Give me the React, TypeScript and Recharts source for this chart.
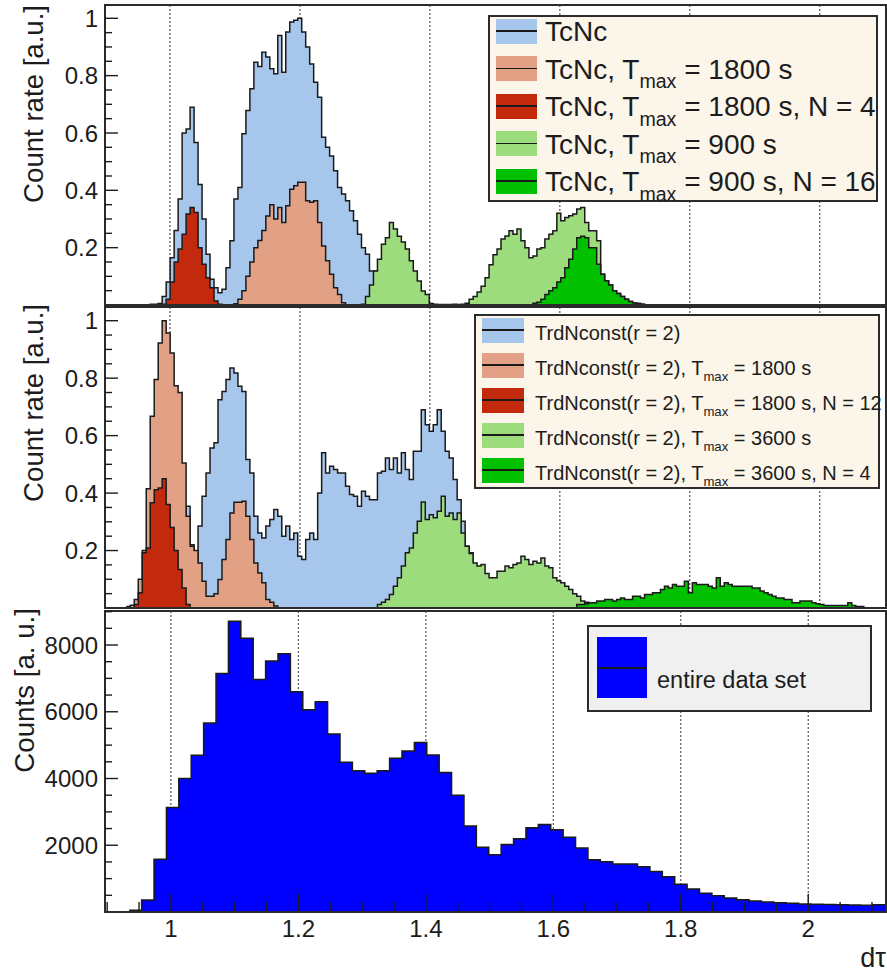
import React from 'react';
import { ComposedChart, Area, XAxis, YAxis, CartesianGrid, Legend, ReferenceArea } from 'recharts';

const FONT = '"Liberation Sans", Arial, Helvetica, sans-serif';
const INK = '#1c1c1c';
const FRAME = '#2b2b2b';

const C_BLUE = '#a6c6ec';
const C_SALMON = '#e2a185';
const C_RED = '#c3290c';
const C_LGREEN = '#9cdc7d';
const C_GREEN = '#00c000';
const C_DATA = '#0000ff';

// ---------- axis ticks ----------
const X_TICKS = [0.9, 0.95, 1, 1.05, 1.1, 1.15, 1.2, 1.25, 1.3, 1.35, 1.4, 1.45, 1.5, 1.55, 1.6, 1.65, 1.7, 1.75, 1.8, 1.85, 1.9, 1.95, 2, 2.05, 2.1];
const X_MAJOR = [1, 1.2, 1.4, 1.6, 1.8, 2];
const X_LABELS = ['1', '1.2', '1.4', '1.6', '1.8', '2'];
const RATE_TICKS = [0.05, 0.1, 0.15, 0.2, 0.25, 0.3, 0.35, 0.4, 0.45, 0.5, 0.55, 0.6, 0.65, 0.7, 0.75, 0.8, 0.85, 0.9, 0.95, 1];
const RATE_MAJOR = [0.2, 0.4, 0.6, 0.8, 1];
const RATE_LABELS = ['0.2', '0.4', '0.6', '0.8', '1'];
const COUNT_TICKS = [500, 1000, 1500, 2000, 2500, 3000, 3500, 4000, 4500, 5000, 5500, 6000, 6500, 7000, 7500, 8000, 8500, 9000];
const COUNT_MAJOR = [2000, 4000, 6000, 8000];
const COUNT_LABELS = ['2000', '4000', '6000', '8000'];

// ---------- fine binning (panels 1 & 2) ----------
const FINE_START = 0.9328;
const FINE_BIN = 0.006135;
const FINE_BINS = 187;

// Panel 1: TcNc
const tcncStart = 6;
const tcnc = [0.003, 0.003, 0.005, 0.03, 0.08, 0.165, 0.26, 0.37, 0.6, 0.614, 0.69, 0.567, 0.42, 0.3, 0.177, 0.09, 0.06, 0.043, 0.055, 0.13, 0.224, 0.37, 0.41, 0.597, 0.678, 0.754, 0.847, 0.832, 0.882, 0.865, 0.824, 0.807, 0.94, 0.812, 0.952, 0.987, 0.993, 1.0, 0.952, 0.9, 0.841, 0.777, 0.725, 0.585, 0.55, 0.52, 0.468, 0.41, 0.387, 0.364, 0.329, 0.294, 0.247, 0.2, 0.177, 0.119, 0.119, 0.11, 0.06, 0.02, 0.005];
const tcnc1800Start = 27;
const tcnc1800 = [0.004, 0.02, 0.05, 0.1, 0.15, 0.2, 0.225, 0.26, 0.31, 0.35, 0.3, 0.34, 0.288, 0.346, 0.404, 0.416, 0.428, 0.428, 0.364, 0.358, 0.364, 0.288, 0.206, 0.154, 0.107, 0.06, 0.037, 0.008];
const tcnc1800N4Start = 9;
const tcnc1800N4 = [0.003, 0.02, 0.08, 0.15, 0.195, 0.247, 0.317, 0.34, 0.323, 0.2, 0.142, 0.095, 0.06, 0.014, 0.003];
const tcnc900Start = 59;
const tcnc900 = [0.003, 0.03, 0.07, 0.119, 0.16, 0.212, 0.235, 0.288, 0.265, 0.24, 0.22, 0.195, 0.154, 0.119, 0.084, 0.049, 0.037, 0.005,
  0.003, 0.002, 0.002, 0.002, 0.002, 0.003, 0.002,
  0.003, 0.006, 0.02, 0.03, 0.045, 0.065, 0.095, 0.14, 0.175, 0.195, 0.23, 0.241, 0.259, 0.247, 0.265, 0.224, 0.2, 0.165, 0.171, 0.195, 0.2, 0.23, 0.247, 0.259, 0.32, 0.294, 0.305, 0.311, 0.317, 0.335, 0.34, 0.288, 0.259, 0.259, 0.224,
  0.107, 0.085, 0.07, 0.05, 0.04, 0.03, 0.02, 0.012, 0.007, 0.005, 0.003];
const tcnc900N16Start = 102;
const tcnc900N16 = [0.006, 0.01, 0.02, 0.037, 0.05, 0.06, 0.08, 0.095, 0.13, 0.16, 0.195, 0.235, 0.24, 0.235, 0.2, 0.2, 0.142, 0.107, 0.085, 0.07, 0.05, 0.04, 0.03, 0.02, 0.012, 0.007, 0.005, 0.003];

// Panel 2: TrdNconst(r = 2)
const trdStart = 15;
const trd = [0.354, 0.22, 0.15, 0.285, 0.389, 0.47, 0.557, 0.575, 0.725, 0.754, 0.795, 0.835, 0.818, 0.772, 0.754,
  0.517, 0.47, 0.319, 0.261, 0.244, 0.285, 0.308, 0.343, 0.319, 0.25, 0.285, 0.238, 0.261, 0.18, 0.169, 0.238, 0.261, 0.238,
  0.4, 0.54, 0.47, 0.493, 0.482, 0.47, 0.47, 0.424, 0.395, 0.389, 0.354, 0.406, 0.389, 0.377, 0.377,
  0.47, 0.476, 0.522, 0.482, 0.522, 0.47, 0.54, 0.482, 0.447, 0.546, 0.546, 0.69, 0.638, 0.615, 0.638, 0.69, 0.615,
  0.546, 0.522, 0.447, 0.377, 0.302, 0.215, 0.192, 0.14, 0.1, 0.07, 0.05, 0.03, 0.02, 0.01, 0.005];
const trd1800Start = 0;
const trd1800 = [0.005, 0.01, 0.03, 0.1, 0.2, 0.415, 0.667, 0.795, 0.922, 1.0, 0.957, 0.888, 0.774, 0.75, 0.505, 0.319, 0.215, 0.2, 0.157, 0.093, 0.041, 0.041, 0.05, 0.099, 0.169, 0.238, 0.331, 0.368, 0.368, 0.372, 0.319, 0.238, 0.157, 0.122, 0.088, 0.03, 0.02, 0.007];
const trd1800N12Start = 2;
const trd1800N12 = [0.012, 0.053, 0.192, 0.209, 0.366, 0.412, 0.418, 0.45, 0.36, 0.28, 0.2, 0.134, 0.07, 0.012];
const trd3600Start = 63;
const trd3600 = [0.012, 0.02, 0.03, 0.047, 0.076, 0.105, 0.146, 0.192, 0.209, 0.261, 0.302, 0.369, 0.308, 0.325, 0.314, 0.337, 0.389, 0.319, 0.331, 0.308, 0.331, 0.261, 0.215, 0.19, 0.157, 0.146, 0.151, 0.12, 0.105, 0.105, 0.128, 0.128, 0.146, 0.14, 0.151, 0.157, 0.18, 0.169, 0.151, 0.163, 0.157, 0.174, 0.146, 0.14, 0.105, 0.095, 0.088, 0.076, 0.064, 0.05, 0.041, 0.024, 0.02, 0.018, 0.018, 0.012, 0.01, 0.01, 0.01, 0.008, 0.008, 0.008, 0.005];
const trd3600N4Start = 113;
const trd3600N4 = [0.012, 0.012, 0.015, 0.018, 0.018, 0.024, 0.024, 0.03, 0.03, 0.024, 0.03, 0.035, 0.03, 0.03, 0.041, 0.041, 0.035, 0.047, 0.047, 0.053, 0.053, 0.064, 0.076, 0.07, 0.082, 0.076, 0.076, 0.093, 0.053, 0.088, 0.082, 0.082, 0.082, 0.076, 0.07, 0.105, 0.076, 0.088, 0.082, 0.076, 0.076, 0.076, 0.076, 0.076, 0.07, 0.07, 0.059, 0.053, 0.047, 0.041, 0.035, 0.035, 0.03, 0.03, 0.018, 0.018, 0.024, 0.024, 0.024, 0.018, 0.015, 0.012, 0.009, 0.009, 0.009, 0.009, 0.009, 0.009, 0.018, 0.009, 0.005, 0.005];

// ---------- panel 3: entire data set (coarse bins) ----------
const COARSE_START = 0.93464;
const COARSE_BIN = 0.019451;
const entireDataSet = [50, 360, 1580, 3130, 4000, 4700, 5660, 7150, 8710, 8200, 6970, 7520, 7740, 6600, 6060, 6300, 5330, 4490, 4230, 4160, 4230, 4605, 4826, 5077, 4706, 4183, 3499, 2574, 1940, 1719, 2021, 2192, 2524, 2624, 2464, 2241, 1920, 1568, 1508, 1438, 1438, 1357, 1216, 1056, 835, 690, 560, 490, 420, 370, 330, 300, 280, 260, 240, 230, 225, 220, 210, 200, 215];

// ---------- legends ----------
const TOP_LEGEND_MAIN = ['TcNc', 'TcNc, T', 'TcNc, T', 'TcNc, T', 'TcNc, T'];
const TOP_LEGEND_SUB = ['', 'max', 'max', 'max', 'max'];
const TOP_LEGEND_REST = ['', ' = 1800 s', ' = 1800 s, N = 4', ' = 900 s', ' = 900 s, N = 16'];
const MID_LEGEND_MAIN = ['TrdNconst(r = 2)', 'TrdNconst(r = 2), T', 'TrdNconst(r = 2), T', 'TrdNconst(r = 2), T', 'TrdNconst(r = 2), T'];
const MID_LEGEND_SUB = ['', 'max', 'max', 'max', 'max'];
const MID_LEGEND_REST = ['', ' = 1800 s', ' = 1800 s, N = 12', ' = 3600 s', ' = 3600 s, N = 4'];
const BOT_LEGEND = ['entire data set'];
const SERIES_COLORS = [C_BLUE, C_SALMON, C_RED, C_LGREEN, C_GREEN];
const SERIES_LINE = [1.5, 1.5, 2.5, 1.5, 2.5];

// ---------- tables ----------
type S = { key: string; start: number; values: number[] };
const buildFine = (series: S[]) => {
  const rows: any[] = [];
  for (let k = 0; k <= FINE_BINS; k++) {
    const row: any = { x: FINE_START + k * FINE_BIN };
    for (const s of series) {
      const i = k - s.start;
      row[s.key] = i >= 0 && i < s.values.length ? s.values[i] : 0;
    }
    rows.push(row);
  }
  return rows;
};
const topData = buildFine([
  { key: 's0', start: tcncStart, values: tcnc },
  { key: 's1', start: tcnc1800Start, values: tcnc1800 },
  { key: 's2', start: tcnc1800N4Start, values: tcnc1800N4 },
  { key: 's3', start: tcnc900Start, values: tcnc900 },
  { key: 's4', start: tcnc900N16Start, values: tcnc900N16 },
]);
const midData = buildFine([
  { key: 's0', start: trdStart, values: trd },
  { key: 's1', start: trd1800Start, values: trd1800 },
  { key: 's2', start: trd1800N12Start, values: trd1800N12 },
  { key: 's3', start: trd3600Start, values: trd3600 },
  { key: 's4', start: trd3600N4Start, values: trd3600N4 },
]);
const botData = [
  ...entireDataSet.map((v, i) => ({ x: COARSE_START + i * COARSE_BIN, y: v })),
  { x: COARSE_START + entireDataSet.length * COARSE_BIN, y: entireDataSet[entireDataSet.length - 1] },
];

// ---------- tick renderers ----------
const idxOf = (arr: number[], v: number) => arr.findIndex((m) => Math.abs(m - v) < 1e-6);

const makeXTick = (withLabel: boolean) => (props: any) => {
  const { x, y, payload } = props;
  const i = idxOf(X_MAJOR, payload.value);
  const major = i >= 0;
  return (
    <g>
      <line x1={x} x2={x} y1={y} y2={y - (major ? 18 : 10)} stroke={INK} strokeWidth={1.4} />
      {withLabel && major && (
        <text x={x} y={y + 25} textAnchor="middle" fontSize={24} fontFamily={FONT} fill={INK}>{X_LABELS[i]}</text>
      )}
    </g>
  );
};

const makeYTick = (majors: number[], labels: string[]) => (props: any) => {
  const { x, y, payload } = props;
  const i = idxOf(majors, payload.value);
  const major = i >= 0;
  return (
    <g>
      <line x1={x} x2={x + (major ? 13 : 7)} y1={y} y2={y} stroke={INK} strokeWidth={1.4} />
      {major && (
        <text x={x - 7} y={y} dy="0.36em" textAnchor="end" fontSize={24} fontFamily={FONT} fill={INK}>{labels[i]}</text>
      )}
    </g>
  );
};

const makeYTitle = (text: string, baseX: number, lift: number, size: number) => (props: any) => {
  const vb = props.viewBox || { x: 0, y: 0 };
  const px = baseX;
  const py = vb.y - lift;
  return (
    <text x={px} y={py} transform={`rotate(-90, ${px}, ${py})`} textAnchor="end" fontSize={size} fontFamily={FONT} fill={INK}>
      {text}
    </text>
  );
};

const makeGrid = (domain: [number, number]) => (p: any) => {
  const s = p && p.xAxis && p.xAxis.scale;
  if (typeof s === 'function') return X_MAJOR.map((v) => s(v));
  const o = p.offset;
  return X_MAJOR.map((v) => o.left + ((v - domain[0]) / (domain[1] - domain[0])) * o.width);
};

// ---------- legend boxes ----------
const LegendRows = (p: {
  w: number; h: number; bg: string; font: number; first: number; step: number;
  swX: number; swW: number; swH: number; swDy: number; textX: number; subScale: number;
  main: string[]; sub: string[]; rest: string[];
}) => (
  <div
    style={{
      position: 'relative', width: p.w, height: p.h, boxSizing: 'border-box',
      border: `2px solid ${FRAME}`, background: p.bg, fontFamily: FONT, color: INK,
    }}
  >
    {p.main.map((m, i) => {
      const cy = p.first + i * p.step - 2;
      return (
        <React.Fragment key={i}>
          <div style={{ position: 'absolute', left: p.swX - 2, top: cy + p.swDy - p.swH / 2, width: p.swW, height: p.swH, background: SERIES_COLORS[i] }}>
            <div style={{ position: 'absolute', left: 0, right: 0, top: p.swH / 2 - SERIES_LINE[i] / 2, height: SERIES_LINE[i], background: '#1a1a1a' }} />
          </div>
          <div style={{ position: 'absolute', left: p.textX - 2, top: cy - p.font / 2, height: p.font, lineHeight: `${p.font}px`, fontSize: p.font, whiteSpace: 'nowrap' }}>
            {m}
            {p.sub[i] && <span style={{ fontSize: `${p.subScale}em`, position: 'relative', top: '0.5em' }}>{p.sub[i]}</span>}
            {p.rest[i]}
          </div>
        </React.Fragment>
      );
    })}
  </div>
);

const TopLegend = () => (
  <LegendRows w={390} h={187} bg="#fbf5ea" font={28} first={17} step={37.5} swX={8} swW={41} swH={25} swDy={-1} textX={57} subScale={0.7}
    main={TOP_LEGEND_MAIN} sub={TOP_LEGEND_SUB} rest={TOP_LEGEND_REST} />
);
const MidLegend = () => (
  <LegendRows w={406} h={175} bg="#fbf5ea" font={20} first={18.5} step={35} swX={8} swW={42} swH={25} swDy={-2.5} textX={61} subScale={0.66}
    main={MID_LEGEND_MAIN} sub={MID_LEGEND_SUB} rest={MID_LEGEND_REST} />
);
const BotLegend = () => (
  <div style={{ position: 'relative', width: 285, height: 87, boxSizing: 'border-box', border: `2px solid ${FRAME}`, background: '#f0f0f0', fontFamily: FONT, color: INK }}>
    <div style={{ position: 'absolute', left: 8, top: 10, width: 50, height: 61, background: C_DATA }}>
      <div style={{ position: 'absolute', left: 0, right: 0, top: 30, height: 1.5, background: '#1a1a1a' }} />
    </div>
    <div style={{ position: 'absolute', left: 68, top: 53 - 12, height: 24, lineHeight: '24px', fontSize: 23.5, whiteSpace: 'nowrap' }}>{BOT_LEGEND[0]}</div>
  </div>
);

const FINE_DOMAIN: [number, number] = [0.9, 2.102];
const COARSE_DOMAIN: [number, number] = [0.8966, 2.122];
const RATE_DOMAIN_TOP: [number, number] = [0, 1.0464];
const RATE_DOMAIN_MID: [number, number] = [0, 1.0477];
const COUNT_DOMAIN: [number, number] = [0, 9019];

const frame = (xd: [number, number], yd: [number, number]) => (
  <ReferenceArea x1={xd[0]} x2={xd[1]} y1={yd[0]} y2={yd[1]} fill="none" fillOpacity={0} stroke={FRAME} strokeWidth={2} ifOverflow="visible" />
);

const seriesAreas = () =>
  SERIES_COLORS.map((c, i) => (
    <Area key={i} type="stepAfter" dataKey={`s${i}`} stroke="#1a1a1a" strokeWidth={1.5} fill={c} fillOpacity={1}
      isAnimationActive={false} dot={false} activeDot={false} />
  ));

export default function App() {
  return (
    <div style={{ position: 'absolute', left: 0, top: 0, width: 887, height: 975, background: '#fff', fontFamily: FONT }}>
      <div style={{ position: 'absolute', left: 0, top: 0 }}>
        <ComposedChart width={887} height={306} data={topData} margin={{ top: 5, right: 1, bottom: 1, left: 0 }}>
          <CartesianGrid horizontal={false} verticalCoordinatesGenerator={makeGrid(FINE_DOMAIN)} stroke="#555" strokeDasharray="2 2" strokeWidth={1.2} />
          {seriesAreas()}
          <XAxis dataKey="x" type="number" domain={FINE_DOMAIN} allowDataOverflow ticks={X_TICKS} interval={0}
            height={0} tickSize={0} tickMargin={0} tickLine={false} tick={makeXTick(false)} axisLine={{ stroke: FRAME, strokeWidth: 2 }} />
          <YAxis type="number" domain={RATE_DOMAIN_TOP} allowDataOverflow ticks={RATE_TICKS} interval={0} width={105}
            tickSize={0} tickMargin={0} tickLine={false} tick={makeYTick(RATE_MAJOR, RATE_LABELS)} axisLine={{ stroke: FRAME, strokeWidth: 2 }}
            label={{ content: makeYTitle('Count rate [a.u.]', 43, 0, 27.6) }} />
          {frame(FINE_DOMAIN, RATE_DOMAIN_TOP)}
          <Legend layout="vertical" align="center" verticalAlign="middle" content={() => <TopLegend />}
            wrapperStyle={{ left: 488, top: 15, width: 390, height: 187 }} />
        </ComposedChart>
      </div>
      <div style={{ position: 'absolute', left: 0, top: 296 }}>
        <ComposedChart width={887} height={313} data={midData} margin={{ top: 11, right: 1, bottom: 1, left: 0 }}>
          <CartesianGrid horizontal={false} verticalCoordinatesGenerator={makeGrid(FINE_DOMAIN)} stroke="#555" strokeDasharray="2 2" strokeWidth={1.2} />
          {seriesAreas()}
          <XAxis dataKey="x" type="number" domain={FINE_DOMAIN} allowDataOverflow ticks={X_TICKS} interval={0}
            height={0} tickSize={0} tickMargin={0} tickLine={false} tick={makeXTick(false)} axisLine={{ stroke: FRAME, strokeWidth: 2 }} />
          <YAxis type="number" domain={RATE_DOMAIN_MID} allowDataOverflow ticks={RATE_TICKS} interval={0} width={105}
            tickSize={0} tickMargin={0} tickLine={false} tick={makeYTick(RATE_MAJOR, RATE_LABELS)} axisLine={{ stroke: FRAME, strokeWidth: 2 }}
            label={{ content: makeYTitle('Count rate [a.u.]', 43, 3, 27.6) }} />
          {frame(FINE_DOMAIN, RATE_DOMAIN_MID)}
          <Legend layout="vertical" align="center" verticalAlign="middle" content={() => <MidLegend />}
            wrapperStyle={{ left: 474, top: 18, width: 406, height: 175 }} />
        </ComposedChart>
      </div>
      <div style={{ position: 'absolute', left: 0, top: 600 }}>
        <ComposedChart width={887} height={375} data={botData} margin={{ top: 11, right: 1, bottom: 0, left: 0 }}>
          <CartesianGrid horizontal={false} verticalCoordinatesGenerator={makeGrid(COARSE_DOMAIN)} stroke="#555" strokeDasharray="2 2" strokeWidth={1.2} />
          <Area type="stepAfter" dataKey="y" stroke="#1a1a1a" strokeWidth={1.5} fill={C_DATA} fillOpacity={1}
            isAnimationActive={false} dot={false} activeDot={false} />
          <XAxis dataKey="x" type="number" domain={COARSE_DOMAIN} allowDataOverflow ticks={X_TICKS} interval={0}
            height={63} tickSize={0} tickMargin={0} tickLine={false} tick={makeXTick(true)} axisLine={{ stroke: FRAME, strokeWidth: 2 }}
            label={{
              content: (p: any) => {
                const vb = p.viewBox || { x: 105, y: 912, width: 781, height: 63 };
                return (
                  <text x={vb.x + vb.width} y={vb.y + 55} textAnchor="end" fontSize={27} fontFamily={FONT} fill={INK}>dτ</text>
                );
              },
            }} />
          <YAxis type="number" domain={COUNT_DOMAIN} allowDataOverflow ticks={COUNT_TICKS} interval={0} width={105}
            tickSize={0} tickMargin={0} tickLine={false} tick={makeYTick(COUNT_MAJOR, COUNT_LABELS)} axisLine={{ stroke: FRAME, strokeWidth: 2 }}
            label={{ content: makeYTitle('Counts [a. u.]', 34, 3, 27.7) }} />
          {frame(COARSE_DOMAIN, COUNT_DOMAIN)}
          <Legend layout="vertical" align="center" verticalAlign="middle" content={() => <BotLegend />}
            wrapperStyle={{ left: 587, top: 25, width: 285, height: 87 }} />
        </ComposedChart>
      </div>
    </div>
  );
}
